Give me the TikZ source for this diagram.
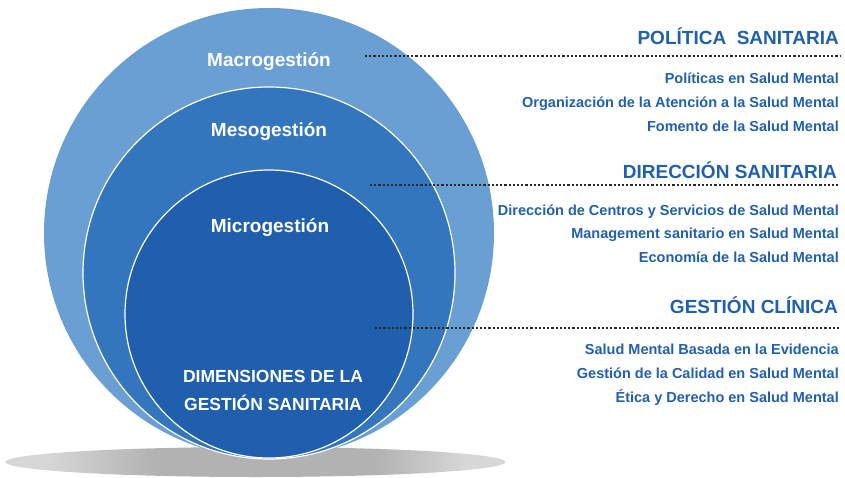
\documentclass[tikz,border=0pt]{standalone}
\usepackage{fontspec}
\setmainfont{Liberation Sans}
\usetikzlibrary{shapes.geometric}
\definecolor{outerc}{HTML}{6A9FD4}
\definecolor{midc}{HTML}{3476BD}
\definecolor{innerc}{HTML}{1F5FAD}
\definecolor{txtc}{HTML}{2060AE}
\definecolor{dotc}{HTML}{2A2A2A}
\definecolor{shL}{HTML}{D6D7D9}
\definecolor{shM}{HTML}{B2B2B2}
\pgfdeclarehorizontalshading{shadowshade}{100bp}{color(0bp)=(shL); color(29bp)=(shL); color(40bp)=(shM); color(62bp)=(shM); color(71bp)=(shL); color(100bp)=(shL)}
\begin{document}
\begin{tikzpicture}[x=1pt,y=-1pt,
  ring/.style={circle, inner sep=0pt, outer sep=0pt},
  lbl/.style={text=white, font=\bfseries\fontsize{19}{22}\selectfont, anchor=base, inner sep=0pt},
  dimlbl/.style={lbl, font=\bfseries\fontsize{17.5}{20}\selectfont},
  head/.style={text=txtc, font=\bfseries\fontsize{19}{22}\selectfont, anchor=base east, inner sep=0pt},
  item/.style={text=txtc, font=\bfseries\fontsize{14.5}{17}\selectfont, anchor=base east, inner sep=0pt},
  leader/.style={dotc, line width=2.2pt, dash pattern=on 2.1pt off 2.1pt}
]
\path[use as bounding box] (0,0) rectangle (845,478);
\node[ellipse, minimum width=500pt, minimum height=30pt, shade, shading=shadowshade, inner sep=0pt] (shadow) at (255.5,462) {};
\node[ring, fill=outerc, minimum size=450pt] (macro) at (269,233) {};
\node[ring, fill=midc, draw=white, line width=1.2pt, minimum size=372pt] (meso) at (269,273) {};
\node[ring, fill=innerc, draw=white, line width=1.2pt, minimum size=288pt] (micro) at (269,314) {};

\node[lbl] (tmacro) at (269,67) {Macrogestión};
\node[lbl] (tmeso) at (269,137) {Mesogestión};
\node[lbl] (tmicro) at (270,233) {Microgestión};
\node[dimlbl] (tdim1) at (273,382) {DIMENSIONES DE LA};
\node[dimlbl] (tdim2) at (273,410) {GESTIÓN SANITARIA};

\coordinate (l1s) at (365,56);
\coordinate (l1e) at (840,56);
\coordinate (l2s) at (370,185);
\coordinate (l2e) at (840,185);
\coordinate (l3s) at (375,328);
\coordinate (l3e) at (840,328);
\draw[leader] (l1s) -- (l1e);
\draw[leader] (l2s) -- (l2e);
\draw[leader] (l3s) -- (l3e);

\node[head] (hpol) at (839,45) {POLÍTICA\ \ SANITARIA};
\node[item] (p1) at (839,84) {Políticas en Salud Mental};
\node[item] (p2) at (839,108) {Organización de la Atención a la Salud Mental};
\node[item] (p3) at (839,132) {Fomento de la Salud Mental};

\node[head] (hdir) at (837,179) {DIRECCIÓN SANITARIA};
\node[item] (d1) at (839,215) {Dirección de Centros y Servicios de Salud Mental};
\node[item] (d2) at (839,238) {Management sanitario en Salud Mental};
\node[item] (d3) at (839,262) {Economía de la Salud Mental};

\node[head] (hges) at (838,313) {GESTIÓN CLÍNICA};
\node[item] (g1) at (839,354) {Salud Mental Basada en la Evidencia};
\node[item] (g2) at (839,378) {Gestión de la Calidad en Salud Mental};
\node[item] (g3) at (839,402) {Ética y Derecho en Salud Mental};
\end{tikzpicture}
\end{document}
